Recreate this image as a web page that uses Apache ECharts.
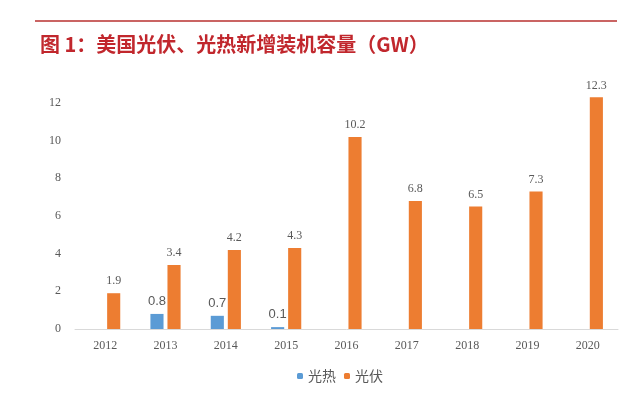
<!DOCTYPE html>
<html>
<head>
<meta charset="utf-8">
<script src="https://cdn.jsdelivr.net/npm/echarts@6/dist/echarts.min.js"></script>
<style>
  html, body { margin: 0; padding: 0; background: #fff; }
  #chart { width: 640px; height: 396px; }
</style>
</head>
<body>
<div id="chart"></div>
<script>
const years = ["2012", "2013", "2014", "2015", "2016", "2017", "2018", "2019", "2020"];
const solarThermal = [null, 0.8, 0.7, 0.1, null, null, null, null, null];
const photovoltaic = [1.9, 3.4, 4.2, 4.3, 10.2, 6.8, 6.5, 7.3, 12.3];

const chart = echarts.init(document.getElementById("chart"));

const option = {
  animation: false,
  title: {
    text: "图 1：美国光伏、光热新增装机容量（GW）",
    left: 35,
    top: 29,
    textStyle: {
      color: "#c1272d",
      fontSize: 20,
      fontWeight: "bold",
      fontFamily: "Noto Sans CJK SC",
    },
  },
  graphic: [
    {
      type: "line",
      shape: { x1: 35, y1: 21, x2: 617, y2: 21 },
      style: { stroke: "#b8312f", lineWidth: 1.5 },
    },
  ],
  grid: {
    left: 75,
    right: 22,
    top: 103,
    bottom: 67,
  },
  legend: {
    top: 364,
    left: 292,
    itemWidth: 6,
    itemHeight: 6,
    itemGap: 8,
    textStyle: {
      color: "#595959",
      fontSize: 14,
      fontFamily: "Noto Sans CJK SC",
    },
    data: ["光热", "光伏"],
  },
  xAxis: {
    type: "category",
    data: years,
    axisLine: { lineStyle: { color: "#d9d9d9", width: 1 } },
    axisTick: { show: false },
    axisLabel: {
      color: "#595959",
      fontSize: 12,
      fontFamily: "Liberation Serif",
      margin: 11,
    },
  },
  yAxis: {
    type: "value",
    min: 0,
    max: 12,
    interval: 2,
    axisLine: { show: false },
    axisTick: { show: false },
    splitLine: { show: false },
    axisLabel: {
      color: "#595959",
      fontSize: 12,
      fontFamily: "Liberation Serif",
      margin: 14,
    },
  },
  series: [
    {
      name: "光热",
      type: "bar",
      data: solarThermal,
      clip: false,
      barGap: "30%",
      barCategoryGap: "50%",
      itemStyle: { color: "#5b9bd5" },
      label: {
        show: true,
        position: "top",
        distance: 6,
        color: "#595959",
        fontSize: 13,
        fontFamily: "Liberation Sans",
      },
    },
    {
      name: "光伏",
      type: "bar",
      data: photovoltaic,
      clip: false,
      barGap: "30%",
      barCategoryGap: "50%",
      itemStyle: { color: "#ed7d31" },
      label: {
        show: true,
        position: "top",
        distance: 6,
        color: "#595959",
        fontSize: 12,
        fontFamily: "Liberation Serif",
      },
    },
  ],
};

chart.setOption(option);
</script>
</body>
</html>
